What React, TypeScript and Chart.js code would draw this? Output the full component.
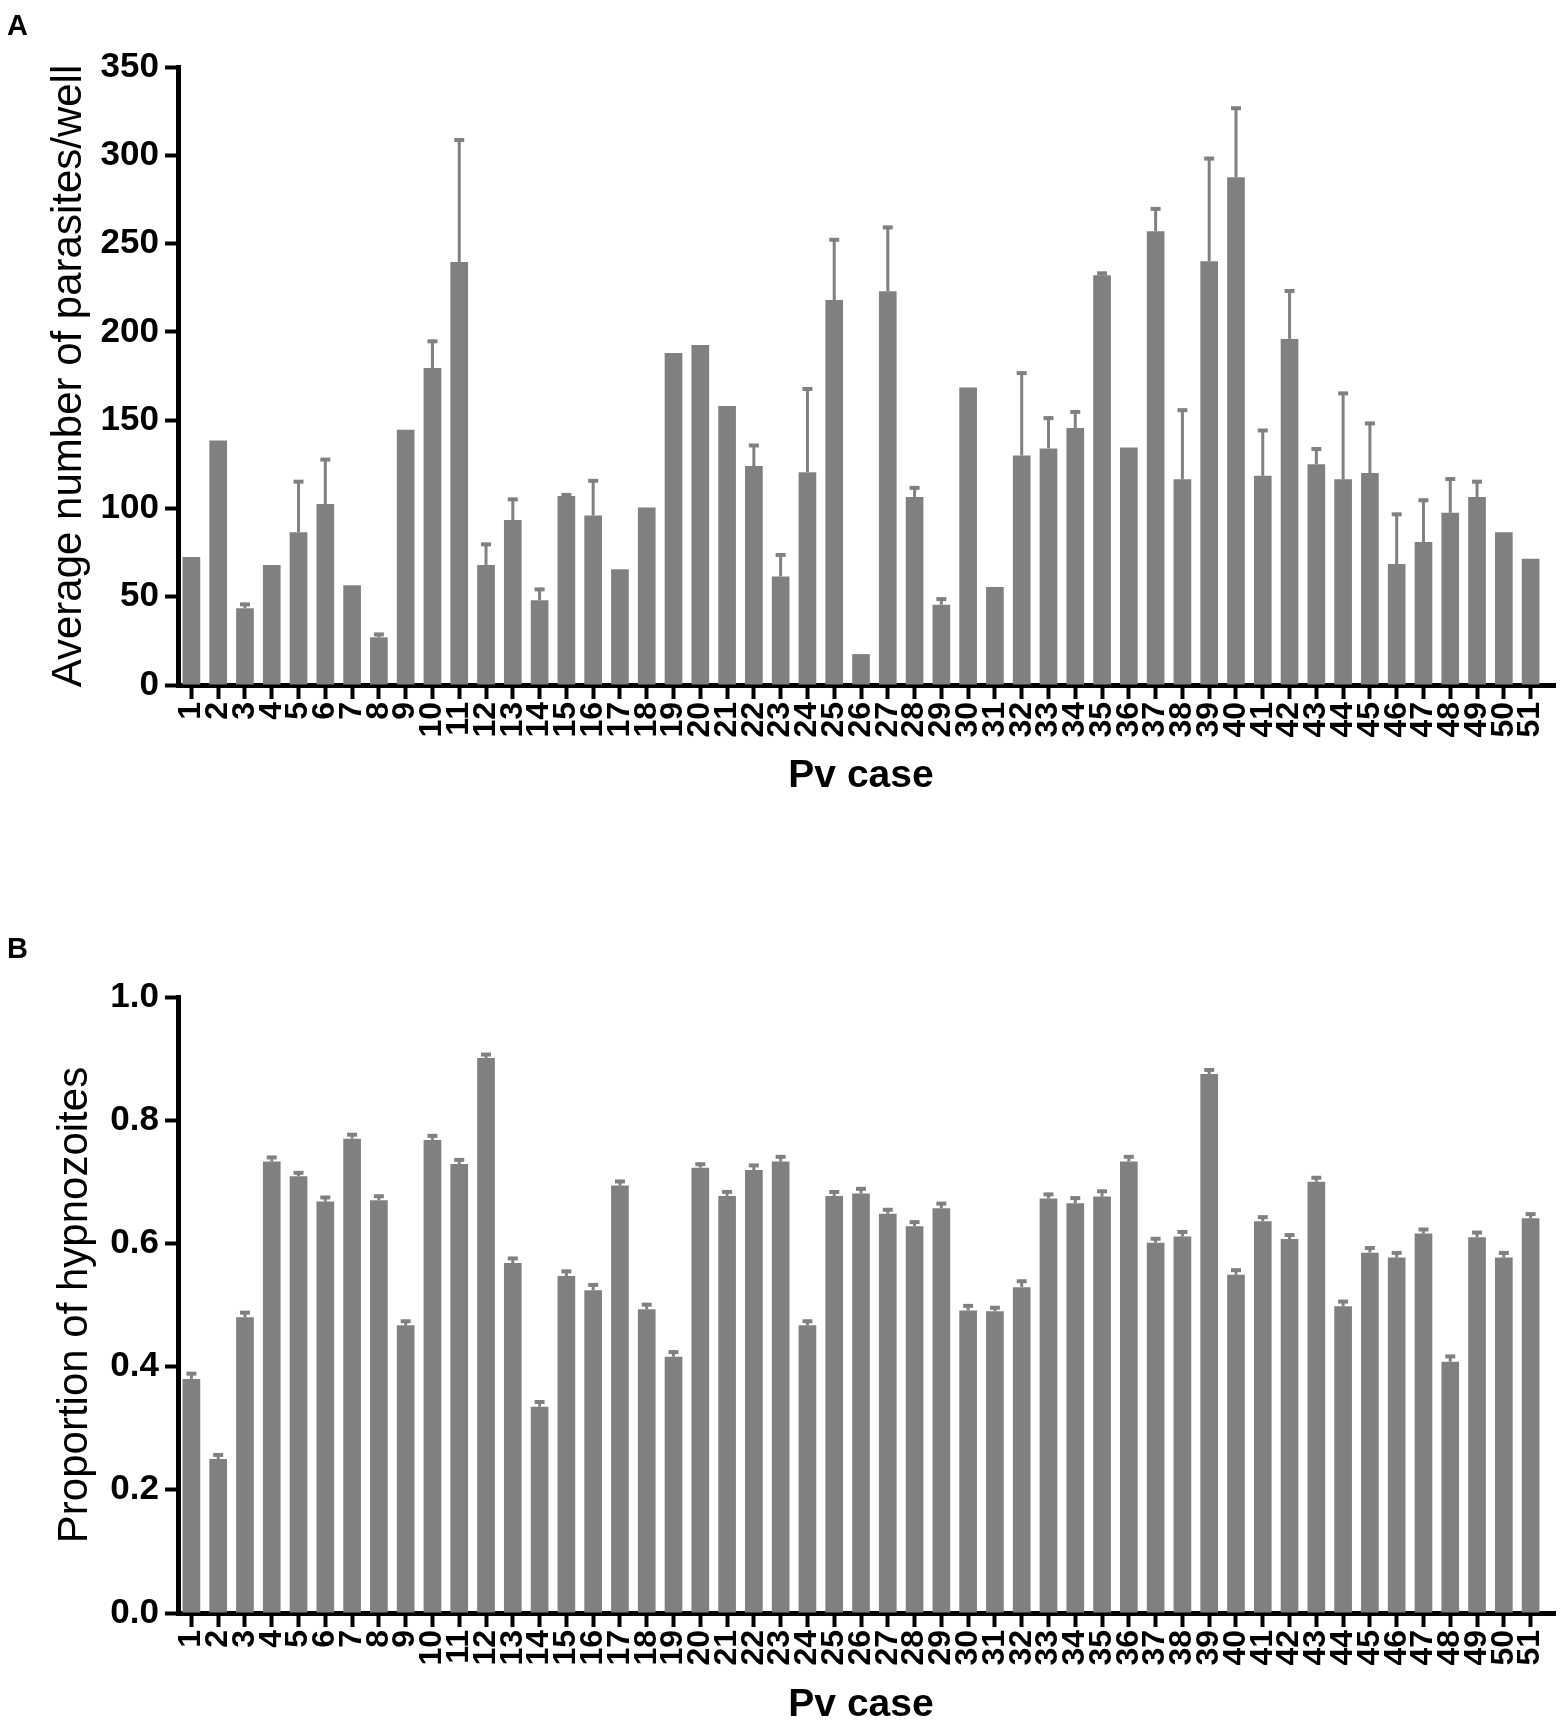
import { useEffect, useRef } from "react"
import { Chart, registerables, type Plugin } from "chart.js"

Chart.register(...registerables)

const FONT = '"Liberation Sans", Arial, Helvetica, sans-serif'
const BAR_GREY = "#808080"

// Pv case labels (shared by both panels)
const cases = [
  "1", "2", "3", "4", "5", "6", "7", "8", "9", "10",
  "11", "12", "13", "14", "15", "16", "17", "18", "19", "20",
  "21", "22", "23", "24", "25", "26", "27", "28", "29", "30",
  "31", "32", "33", "34", "35", "36", "37", "38", "39", "40",
  "41", "42", "43", "44", "45", "46", "47", "48", "49", "50", "51",
]

// Panel A: average number of parasites per well (mean, upper error bar end)
const parasiteMeans = [
  72.5, 138.5, 43.5, 68, 86.5, 102.5, 56.5, 27, 144.5, 179.5,
  239.5, 68, 93.5, 48, 107, 96, 65.5, 100.5, 188, 192.5,
  158, 124, 61.5, 120.5, 218, 17.5, 223, 106.5, 45.5, 168.5,
  55.5, 130, 134, 145.5, 232, 134.5, 257, 116.5, 240, 287.5,
  118.5, 196, 125, 116.5, 120, 68.5, 81, 97.5, 106.5, 86.5, 71.5,
]
const parasiteErrTop = [
  null, null, 46.5, null, 116, 128.5, null, 29.5, null, 195.5,
  309.5, 80.5, 106, 55, 108.5, 116.5, null, null, null, null,
  null, 136.5, 74.5, 168.5, 253, null, 260, 112.5, 49.5, null,
  null, 177.5, 152, 155.5, 234, null, 270.5, 156.5, 299, 327.5,
  145, 224, 134.5, 166, 149, 97.5, 105.5, 117.5, 116, null, null,
]
const parasiteTicks = [0, 50, 100, 150, 200, 250, 300, 350]

// Panel B: proportion of hypnozoites
const hypnoMeans = [
  0.380, 0.250, 0.480, 0.733, 0.709, 0.668, 0.770, 0.670, 0.467, 0.768,
  0.729, 0.901, 0.568, 0.335, 0.547, 0.524, 0.694, 0.493, 0.416, 0.723,
  0.677, 0.719, 0.733, 0.467, 0.677, 0.681, 0.648, 0.628, 0.657, 0.491,
  0.490, 0.529, 0.673, 0.665, 0.676, 0.733, 0.601, 0.611, 0.875, 0.549,
  0.636, 0.607, 0.700, 0.498, 0.585, 0.577, 0.616, 0.408, 0.610, 0.577, 0.641,
]
const hypnoErrTop = [
  0.391, 0.259, 0.490, 0.742, 0.717, 0.677, 0.779, 0.679, 0.476, 0.777,
  0.738, 0.909, 0.578, 0.345, 0.557, 0.535, 0.703, 0.503, 0.426, 0.731,
  0.686, 0.729, 0.743, 0.476, 0.686, 0.691, 0.657, 0.637, 0.667, 0.501,
  0.498, 0.541, 0.682, 0.676, 0.687, 0.743, 0.610, 0.621, 0.884, 0.559,
  0.645, 0.616, 0.709, 0.508, 0.595, 0.587, 0.625, 0.419, 0.620, 0.587, 0.650,
]
const hypnoTicks = [0, 0.2, 0.4, 0.6, 0.8, 1.0]

interface PanelProps {
  letter: string
  letterY: number
  top: number
  height: number
  padTop: number
  xAxisHeight: number
  xTitlePad: number
  yTitle: string
  yTitlePad: number
  values: number[]
  errTop: (number | null)[]
  ticks: number[]
  decimals: number
}

// upper-only error bars, drawn over the bars
const errorBars = (errTop: (number | null)[]): Plugin<"bar"> => ({
  id: "errorBars",
  afterDatasetsDraw(chart) {
    const meta = chart.getDatasetMeta(0)
    const y = chart.scales.y
    const ctx = chart.ctx
    ctx.save()
    ctx.strokeStyle = BAR_GREY
    meta.data.forEach((bar, i) => {
      const e = errTop[i]
      if (e == null) return
      const x = bar.x
      const yTop = y.getPixelForValue(e)
      ctx.lineWidth = 3
      ctx.beginPath()
      ctx.moveTo(x, bar.y)
      ctx.lineTo(x, yTop)
      ctx.stroke()
      ctx.lineWidth = 4
      ctx.beginPath()
      ctx.moveTo(x - 5, yTop + 1.5)
      ctx.lineTo(x + 5, yTop + 1.5)
      ctx.stroke()
    })
    ctx.restore()
  },
})

// panel letter, plus the short run of x axis past the last bar
const panelLetter = (letter: string, baseline: number): Plugin<"bar"> => ({
  id: "panelLetter",
  afterDraw(chart) {
    const ctx = chart.ctx
    const { right } = chart.chartArea
    // same pixel alignment Chart.js uses for a 5px border
    const yb = Math.round(chart.scales.x.top - 2.5) + 2.5
    ctx.save()
    ctx.strokeStyle = "#000"
    ctx.lineWidth = 5
    ctx.beginPath()
    ctx.moveTo(right - 3, yb)
    ctx.lineTo(1556, yb)
    ctx.stroke()
    ctx.fillStyle = "#000"
    ctx.font = `bold 29px ${FONT}`
    ctx.textBaseline = "alphabetic"
    ctx.fillText(letter, 7, baseline)
    ctx.restore()
  },
})

function Panel(props: PanelProps) {
  const canvasRef = useRef<HTMLCanvasElement>(null)

  useEffect(() => {
    if (!canvasRef.current) return
    const chart = new Chart(canvasRef.current, {
      type: "bar",
      data: {
        labels: cases,
        datasets: [
          {
            data: props.values,
            backgroundColor: BAR_GREY,
            borderWidth: 0,
            barPercentage: 0.66,
            categoryPercentage: 1,
          },
        ],
      },
      options: {
        responsive: false,
        animation: false,
        layout: { padding: { top: props.padTop, right: 18, left: 0, bottom: 0 } },
        plugins: { legend: { display: false }, tooltip: { enabled: false } },
        scales: {
          x: {
            grid: {
              offset: false,
              drawOnChartArea: false,
              color: "#000",
              tickColor: "#000",
              tickLength: 14,
              tickWidth: 4,
            },
            border: { display: true, color: "#000", width: 5 },
            ticks: {
              autoSkip: false,
              maxRotation: 90,
              minRotation: 90,
              padding: 3,
              color: "#000",
              font: { family: FONT, size: 32, weight: "bold" },
            },
            title: {
              display: true,
              text: "Pv case",
              color: "#000",
              font: { family: FONT, size: 39, weight: "bold" },
              padding: { top: 0, bottom: props.xTitlePad },
            },
            afterFit: (s) => {
              s.height = props.xAxisHeight
              s.paddingLeft = 0
              s.paddingRight = 0
            },
          },
          y: {
            min: props.ticks[0],
            max: props.ticks[props.ticks.length - 1],
            afterBuildTicks: (s) => {
              s.ticks = props.ticks.map((v) => ({ value: v }))
            },
            grid: {
              drawOnChartArea: false,
              color: "#000",
              tickColor: "#000",
              tickLength: 13,
              tickWidth: 4,
            },
            border: { display: true, color: "#000", width: 5 },
            ticks: {
              padding: 6,
              color: "#000",
              font: { family: FONT, size: 35, weight: "bold" },
              callback: (v) => Number(v).toFixed(props.decimals),
            },
            title: {
              display: true,
              text: props.yTitle,
              color: "#000",
              font: { family: FONT, size: 42, weight: "normal" },
              padding: { top: props.yTitlePad, bottom: 0 },
            },
            afterFit: (s) => {
              s.width = 178
            },
          },
        },
      },
      plugins: [errorBars(props.errTop), panelLetter(props.letter, props.letterY)],
    })
    return () => chart.destroy()
  }, [])

  return (
    <canvas
      ref={canvasRef}
      width={1562}
      height={props.height}
      style={{ position: "absolute", left: 0, top: props.top, width: 1562, height: props.height }}
    />
  )
}

export default function App() {
  return (
    <div
      style={{
        position: "absolute",
        left: 0,
        top: 0,
        width: 1562,
        height: 1721,
        overflow: "hidden",
        background: "#fff",
      }}
    >
      <Panel
        letter="A"
        letterY={35}
        top={0}
        height={860}
        padTop={67}
        xAxisHeight={175}
        xTitlePad={60}
        yTitle="Average number of parasites/well"
        yTitlePad={44}
        values={parasiteMeans}
        errTop={parasiteErrTop}
        ticks={parasiteTicks}
        decimals={0}
      />
      <Panel
        letter="B"
        letterY={58}
        top={900}
        height={850}
        padTop={97}
        xAxisHeight={137}
        xTitlePad={21}
        yTitle="Proportion of hypnozoites"
        yTitlePad={50}
        values={hypnoMeans}
        errTop={hypnoErrTop}
        ticks={hypnoTicks}
        decimals={1}
      />
    </div>
  )
}
